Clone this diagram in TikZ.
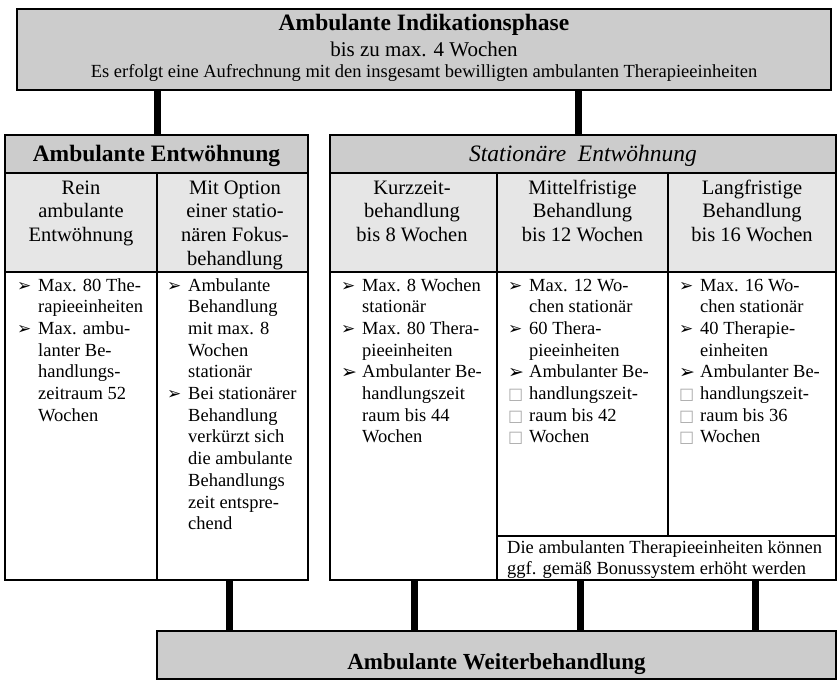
\documentclass[tikz,border=0pt]{standalone}
\usepackage{fontspec}
\setmainfont{Liberation Serif}
\newfontfamily\djv{DejaVu Sans}
\definecolor{hdrgray}{HTML}{CCCCCC}
\definecolor{subgray}{HTML}{E6E6E6}
\definecolor{sqgray}{HTML}{A8A8A8}
\newcommand{\bl}{\makebox[21pt][l]{\fontsize{17}{17}\djv ➢}}
\newcommand{\blL}{\makebox[21pt][l]{\raisebox{-0.5pt}{\fontsize{19}{19}\djv ➢}}}
\newcommand{\sq}{\makebox[21pt][l]{\fontsize{16}{16}\djv\color{sqgray}□}}
\newcommand{\bodyf}{\fontsize{18.5}{21.7}\selectfont}
\newcommand{\subf}{\fontsize{20.5}{23.8}\selectfont}
\tikzset{
  cell/.style={draw, line width=1.4pt, anchor=north west, inner sep=0pt, outer sep=0pt},
  frm/.style={draw, line width=2pt},
  conn/.style={line width=7pt, draw=black},
  headtxt/.style={anchor=base, inner sep=0pt, font=\fontsize{23.5}{26}\selectfont\bfseries},
  subtxt/.style={anchor=base, inner sep=0pt, font=\subf},
  bodytxt/.style={anchor=base west, inner sep=0pt, font=\bodyf},
}
\begin{document}
\begin{tikzpicture}[x=1pt,y=-1pt]
\useasboundingbox (0,0) rectangle (838,683);
% top box
\node[cell, frm, fill=hdrgray, minimum width=814pt, minimum height=81pt] (top) at (17,9) {};
\node[headtxt] (t1) at (424,30.5) {Ambulante Indikationsphase};
\node[anchor=base, inner sep=0pt, font=\fontsize{21}{24}\selectfont] (t2) at (424,56) {bis zu max. 4 Wochen};
\node[anchor=base, inner sep=0pt, font=\bodyf] (t3) at (424,77.5) {Es erfolgt eine Aufrechnung mit den insgesamt bewilligten ambulanten Therapieeinheiten};
% left group
\node[cell, fill=hdrgray, minimum width=303pt, minimum height=38pt] (hdrA) at (5,135) {};
\node[cell, fill=subgray, minimum width=152pt, minimum height=99pt] (sA1) at (5,173) {};
\node[cell, fill=subgray, minimum width=151pt, minimum height=99pt] (sA2) at (157,173) {};
\node[cell, fill=white, minimum width=152pt, minimum height=308pt] (bA1) at (5,272) {};
\node[cell, fill=white, minimum width=151pt, minimum height=308pt] (bA2) at (157,272) {};
% right group
\node[cell, fill=hdrgray, minimum width=506pt, minimum height=38pt] (hdrS) at (330,135) {};
\node[cell, fill=subgray, minimum width=167pt, minimum height=99pt] (sS1) at (330,173) {};
\node[cell, fill=subgray, minimum width=171pt, minimum height=99pt] (sS2) at (497,173) {};
\node[cell, fill=subgray, minimum width=168pt, minimum height=99pt] (sS3) at (668,173) {};
\node[cell, fill=white, minimum width=167pt, minimum height=308pt] (bS1) at (330,272) {};
\node[cell, fill=white, minimum width=171pt, minimum height=264pt] (bS2) at (497,272) {};
\node[cell, fill=white, minimum width=168pt, minimum height=264pt] (bS3) at (668,272) {};
\node[cell, fill=white, minimum width=339pt, minimum height=44pt] (bonus) at (497,536) {};
% bottom box
\node[cell, frm, fill=hdrgray, minimum width=679pt, minimum height=48pt] (weiter) at (157,631) {};
\node[headtxt, font=\fontsize{23}{26}\selectfont\bfseries] (tw) at (496.5,669) {Ambulante Weiterbehandlung};
% outer frames
\draw[frm] (hdrA.north west) rectangle (bA2.south east);
\draw[frm] (hdrS.north west) rectangle (bS1.south -| hdrS.east);
% headers
\node[headtxt] (hA) at (156.5,161.5) {Ambulante Entwöhnung};
\node[anchor=base, inner sep=0pt, font=\fontsize{23.5}{26}\selectfont\itshape] (hS) at (583,161.5) {Stationäre\ \ Entwöhnung};
% sub headers
\node[subtxt] (stA1) at (81,194) {\begin{tabular}[t]{@{}c@{}}Rein\\ambulante\\Entwöhnung\end{tabular}};
\node[subtxt] (stA2) at (235,194) {\begin{tabular}[t]{@{}c@{}}Mit Option\\einer statio-\\nären Fokus-\\behandlung\end{tabular}};
\node[subtxt] (stS1) at (412,194) {\begin{tabular}[t]{@{}c@{}}Kurzzeit-\\behandlung\\bis 8 Wochen\end{tabular}};
\node[subtxt] (stS2) at (582.5,194) {\begin{tabular}[t]{@{}c@{}}Mittelfristige\\Behandlung\\bis 12 Wochen\end{tabular}};
\node[subtxt] (stS3) at (752,194) {\begin{tabular}[t]{@{}c@{}}Langfristige\\Behandlung\\bis 16 Wochen\end{tabular}};
% bodies
\node[bodytxt] (xA1) at (17,291) {\begin{tabular}[t]{@{}l@{}l@{}}
\bl & Max. 80 The-\\ & rapieeinheiten\\ \bl & Max. ambu-\\ & lanter Be-\\ & handlungs-\\ & zeitraum 52\\ & Wochen\end{tabular}};
\node[bodytxt] (xA2) at (167,291) {\begin{tabular}[t]{@{}l@{}l@{}}
\bl & Ambulante\\ & Behandlung\\ & mit max. 8\\ & Wochen\\ & stationär\\ \bl & Bei stationärer\\ & Behandlung\\ & verkürzt sich\\ & die ambulante\\ & Behandlungs\\ & zeit entspre-\\ & chend\end{tabular}};
\node[bodytxt] (xS1) at (341,291) {\begin{tabular}[t]{@{}l@{}l@{}}
\bl & Max. 8 Wochen\\ & stationär\\ \bl & Max. 80 Thera-\\ & pieeinheiten\\ \blL & Ambulanter Be-\\ & handlungszeit\\ & raum bis 44\\ & Wochen\end{tabular}};
\node[bodytxt] (xS2) at (508,291) {\begin{tabular}[t]{@{}l@{}l@{}}
\bl & Max. 12 Wo-\\ & chen stationär\\ \bl & 60 Thera-\\ & pieeinheiten\\ \blL & Ambulanter Be-\\ \sq & handlungszeit-\\ \sq & raum bis 42\\ \sq & Wochen\end{tabular}};
\node[bodytxt] (xS3) at (679,291) {\begin{tabular}[t]{@{}l@{}l@{}}
\bl & Max. 16 Wo-\\ & chen stationär\\ \bl & 40 Therapie-\\ & einheiten\\ \blL & Ambulanter Be-\\ \sq & handlungszeit-\\ \sq & raum bis 36\\ \sq & Wochen\end{tabular}};
\node[anchor=base west, inner sep=0pt, font=\fontsize{18.5}{21}\selectfont] (xB) at (507,553) {\begin{tabular}[t]{@{}l@{}}Die ambulanten Therapieeinheiten können\\ggf. gemäß Bonussystem erhöht werden\end{tabular}};
% connectors
\coordinate (k1) at (157,0);
\coordinate (k2) at (578,0);
\coordinate (k3) at (229,0);
\coordinate (k4) at (414,0);
\coordinate (k5) at (580,0);
\coordinate (k6) at (755,0);
\draw[conn] (top.south -| k1) -- (hdrA.north -| k1);
\draw[conn] (top.south -| k2) -- (hdrS.north -| k2);
\draw[conn] (bA2.south -| k3) -- (weiter.north -| k3);
\draw[conn] (bS1.south -| k4) -- (weiter.north -| k4);
\draw[conn] (bonus.south -| k5) -- (weiter.north -| k5);
\draw[conn] (bonus.south -| k6) -- (weiter.north -| k6);
\end{tikzpicture}
\end{document}
